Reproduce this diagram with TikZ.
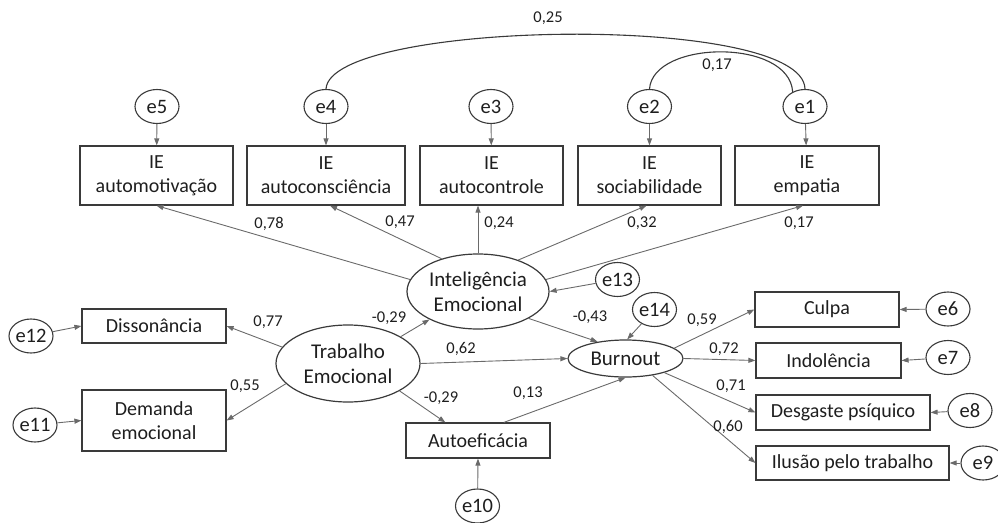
\documentclass[tikz,border=0pt]{standalone}
\usepackage{fontspec}
\setmainfont{Carlito}
\usetikzlibrary{arrows.meta,shapes.geometric}
\definecolor{boxc}{HTML}{3A3A3A}
\definecolor{linec}{HTML}{6A6A6A}
\definecolor{txt}{HTML}{1E1E1E}
\begin{document}
\begin{tikzpicture}[x=1pt,y=-1pt,
 box/.style={draw=boxc,line width=1.2pt,minimum height=35pt,inner sep=0pt,align=center,font=\fontsize{20}{24}\selectfont,text=txt},
 err/.style={draw=boxc,line width=1.1pt,ellipse,minimum width=44pt,minimum height=34pt,inner sep=0pt,font=\fontsize{20.5}{22}\selectfont,text=txt},
 lat/.style={draw=boxc,line width=1.2pt,ellipse,inner sep=0pt,align=center,font=\fontsize{21}{25}\selectfont,text=txt},
 coef/.style={font=\fontsize{16.5}{18}\selectfont,text=txt,inner sep=0pt},
 arr/.style={draw=linec,line width=0.9pt,-{Triangle[length=7pt,width=5pt]}},
 cov/.style={draw=boxc,line width=1.1pt},
]
\useasboundingbox (0,0) rectangle (998,522);

% top indicator boxes
\node[box,minimum width=153pt,minimum height=59pt] (amot) at (156.5,175.5) {IE\\automotivação};
\node[box,minimum width=158pt,minimum height=59pt] (acon) at (326,175.5) {IE\\autoconsciência};
\node[box,minimum width=143pt,minimum height=59pt] (actr) at (491.5,175.5) {IE\\autocontrole};
\node[box,minimum width=143pt,minimum height=59pt] (soc) at (649.5,175.5) {IE\\sociabilidade};
\node[box,minimum width=144pt,minimum height=59pt] (emp) at (807,175.5) {IE\\empatia};

% top errors
\node[err] (e5) at (157,106.5) {e5};
\node[err] (e4) at (326,106.5) {e4};
\node[err] (e3) at (491,106.5) {e3};
\node[err] (e2) at (649.5,106.5) {e2};
\node[err] (e1) at (805,106.5) {e1};

% latent variables
\node[lat,minimum width=142pt,minimum height=75pt] (ie) at (478,291.5) {Inteligência\\Emocional};
\node[lat,minimum width=144pt,minimum height=77pt] (te) at (348,363.5) {Trabalho\\Emocional};
\node[lat,minimum width=115pt,minimum height=37pt] (bo) at (625.5,358.5) {Burnout};

% left boxes
\node[box,minimum width=144pt,minimum height=34pt] (dis) at (154,326) {Dissonância};
\node[box,minimum width=144pt,minimum height=61pt] (dem) at (154,420.5) {Demanda\\emocional};
\node[err] (e12) at (31,336) {e12};
\node[err] (e11) at (35,425) {e11};

% autoeficacia
\node[box,minimum width=144pt,minimum height=35pt] (ae) at (478,440.5) {Autoeficácia};
\node[err] (e10) at (477.5,506) {e10};

% structural errors
\node[err] (e13) at (617.5,279.5) {e13};
\node[err] (e14) at (654.5,309.5) {e14};

% right boxes
\node[box,minimum width=144pt,minimum height=35pt] (cul) at (827,309.5) {Culpa};
\node[box,minimum width=145pt,minimum height=35pt] (ind) at (828.5,360.5) {Indolência};
\node[box,minimum width=174pt,minimum height=35pt] (des) at (843,412.5) {Desgaste psíquico};
\node[box,minimum width=193pt,minimum height=34pt] (ilu) at (852.5,463) {Ilusão pelo trabalho};
\node[err] (e6) at (948,309) {e6};
\node[err] (e7) at (948,357.5) {e7};
\node[err] (e8) at (970,410.5) {e8};
\node[err] (e9) at (983,463) {e9};

% error arrows top
\draw[arr] (e5) -- (amot);
\draw[arr] (e4) -- (acon);
\draw[arr] (e3) -- (actr);
\draw[arr] (e2) -- (soc);
\draw[arr] (e1) -- (emp);

% covariances
\draw[cov] (e4.north) .. controls (330,20) and (803,12) .. (e1.north);
\draw[cov] (e2.north) .. controls (653,40) and (789,38) .. (e1.130);
\node[coef] (c25) at (548,18) {0,25};
\node[coef] (c17a) at (717,65) {0,17};

% IE loadings
\draw[arr] (ie.170) -- (amot.south);
\draw[arr] (ie.138) -- ([xshift=4pt]acon.south);
\draw[arr] (ie.north) -- (actr.south -| ie.north);
\draw[arr] (ie.38) -- ([xshift=-3pt]soc.south);
\draw[arr] (ie.10) -- ([xshift=-4pt]emp.south);
\node[coef] (c78) at (269,224) {0,78};
\node[coef] (c47) at (400,222) {0,47};
\node[coef] (c24) at (499,223) {0,24};
\node[coef] (c32) at (642,223) {0,32};
\node[coef] (c17b) at (799,223) {0,17};

% structural paths
\draw[arr] (e13) -- (ie.east);
\draw[arr] (ie.-28) -- (bo.149);
\draw[arr] (e14) -- (bo.85);
\draw[arr] (te.27) -- (ie.210);
\draw[arr] (te.east) -- (bo.west);
\draw[arr] (te.-28) -- (ae.151);
\draw[arr] (ae.35) -- (bo.south);
\draw[arr] (e10) -- (ae.south);
\node[coef] (cm43) at (590,317) {-0,43};
\node[coef] (cm29a) at (389,318) {-0,29};
\node[coef] (c62) at (461,349) {0,62};
\node[coef] (cm29b) at (441,398) {-0,29};
\node[coef] (c13) at (528,393) {0,13};

% TE indicators
\draw[arr] (te.166) -- (dis.east);
\draw[arr] (te.198) -- (dem.east);
\draw[arr] (e12) -- (dis.west);
\draw[arr] (e11) -- (dem.west);
\node[coef] (c77) at (268,322) {0,77};
\node[coef] (c55) at (245,386) {0,55};

% Burnout indicators
\draw[arr] (bo.12) -- (cul.west);
\draw[arr] (bo.east) -- (ind.west);
\draw[arr] (bo.-20) -- (des.west);
\draw[arr] (bo.-32) -- (ilu.west);
\draw[arr] (e6) -- (cul.east);
\draw[arr] (e7) -- (ind.east);
\draw[arr] (e8) -- (des.east);
\draw[arr] (e9) -- (ilu.east);
\node[coef] (c59) at (702,320) {0,59};
\node[coef] (c72) at (724,349) {0,72};
\node[coef] (c71) at (731,386) {0,71};
\node[coef] (c60) at (728,427) {0,60};
\end{tikzpicture}
\end{document}
